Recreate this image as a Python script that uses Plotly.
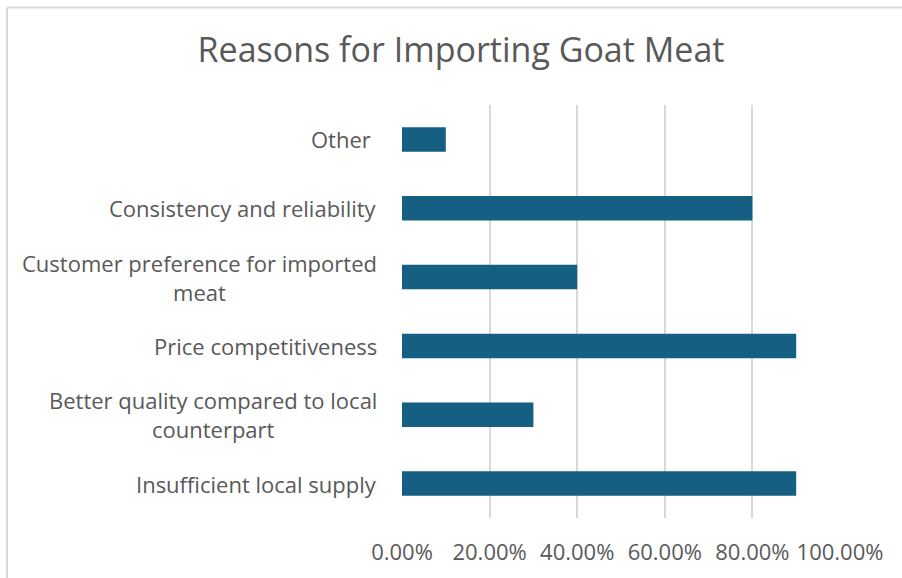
import plotly.graph_objects as go

# Survey responses, bottom category first
reasons = [
    "Insufficient local supply",
    "Better quality compared to local<br>counterpart",
    "Price competitiveness",
    "Customer preference for imported<br>meat",
    "Consistency and reliability",
    "Other\u00a0",
]
shares = [0.90, 0.30, 0.90, 0.40, 0.80, 0.10]

tick_vals = [0.0, 0.2, 0.4, 0.6, 0.8, 1.0]
tick_text = ["0.00%", "20.00%", "40.00%", "60.00%", "80.00%", "100.00%"]

W, H = 902, 578
L, R, T, B = 402, 62, 105, 58
TEXT = "#595959"
GRID = "#d9d9d9"
FONT = "Open Sans, Arial, sans-serif"
LABEL_SIZE = 22

fig = go.Figure(
    go.Bar(
        x=shares,
        y=reasons,
        orientation="h",
        width=0.355,
        marker=dict(color="#156082", line=dict(width=0)),
        hovertemplate="%{x:.2%}<extra></extra>",
    )
)

# Category labels as centred, right-anchored annotations
for name in reasons:
    fig.add_annotation(
        x=0, y=name, xref="x", yref="y",
        text=name, showarrow=False,
        xanchor="right", yanchor="middle", align="center",
        xshift=-23,
        font=dict(family=FONT, size=LABEL_SIZE, color=TEXT),
    )

# Chart-area frame (left and top edges sit inside the page)
pw, ph = W - L - R, H - T - B
fx0 = (7 - L) / pw
fy1 = (H - B - 7) / ph
fig.add_shape(type="line", xref="paper", yref="paper", x0=fx0, x1=fx0, y0=fy1, y1=-1,
              line=dict(color=GRID, width=2), layer="below")
fig.add_shape(type="line", xref="paper", yref="paper", x0=fx0, x1=3, y0=fy1, y1=fy1,
              line=dict(color=GRID, width=2), layer="below")

fig.update_layout(
    width=W,
    height=H,
    margin=dict(l=L, r=R, t=T, b=B, pad=0),
    paper_bgcolor="white",
    plot_bgcolor="white",
    showlegend=False,
    bargap=0.645,
    font=dict(family=FONT, color=TEXT, size=LABEL_SIZE),
    title=dict(
        text="Reasons for Importing Goat Meat",
        x=461 / W,
        xanchor="center",
        y=1 - 50 / H,
        yanchor="middle",
        font=dict(family=FONT, size=34, color=TEXT),
    ),
    xaxis=dict(
        range=[0, 1],
        tickvals=tick_vals,
        ticktext=tick_text,
        showgrid=True,
        gridcolor=GRID,
        gridwidth=1.5,
        zeroline=False,
        showline=False,
        ticks="",
        ticklabelstandoff=19,
        tickfont=dict(size=LABEL_SIZE, color=TEXT),
        fixedrange=True,
    ),
    yaxis=dict(
        showgrid=False,
        zeroline=False,
        showline=False,
        ticks="",
        showticklabels=False,
        fixedrange=True,
    ),
)

fig.write_html("out.html")
